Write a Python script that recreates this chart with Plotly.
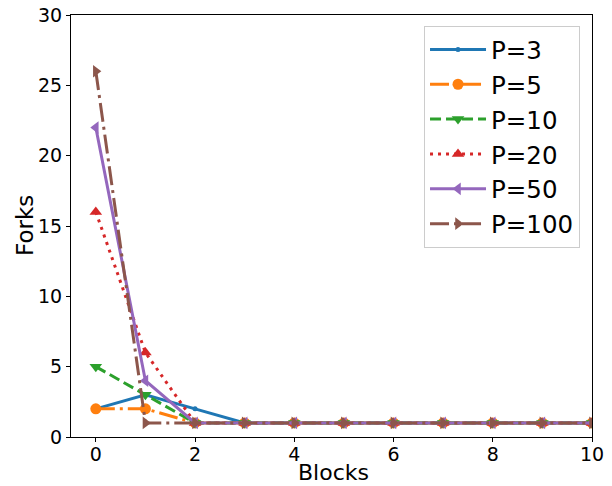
import plotly.graph_objects as go

blocks = list(range(11))
series_names = ["P=3", "P=5", "P=10", "P=20", "P=50", "P=100"]
p3 = [2, 3, 2, 1, 1, 1, 1, 1, 1, 1, 1]
p5 = [2, 2, 1, 1, 1, 1, 1, 1, 1, 1, 1]
p10 = [5, 3, 1, 1, 1, 1, 1, 1, 1, 1, 1]
p20 = [16, 6, 1, 1, 1, 1, 1, 1, 1, 1, 1]
p50 = [22, 4, 1, 1, 1, 1, 1, 1, 1, 1, 1]
p100 = [26, 1, 1, 1, 1, 1, 1, 1, 1, 1, 1]
values = [p3, p5, p10, p20, p50, p100]
x_title = "Blocks"
y_title = "Forks"

colors = ["#1f77b4", "#ff7f0e", "#2ca02c", "#d62728", "#9467bd", "#8c564b"]
dashes = ["solid", "19px,5px,3px,5px", "11px,5px", "3px,5px", "solid", "19px,5px,3px,5px"]
symbols = ["circle", "circle", "triangle-down", "triangle-up", "triangle-left", "triangle-right"]
sizes = [5, 11, 11, 11, 11, 11]

fig = go.Figure()
for name, ys, c, d, s, sz in zip(series_names, values, colors, dashes, symbols, sizes):
    fig.add_trace(go.Scatter(
        x=blocks, y=ys, name=name, mode="lines+markers",
        line=dict(color=c, width=3, dash=d),
        marker=dict(symbol=s, size=sz, color=c, line=dict(width=0)),
    ))

fig.update_layout(
    width=612, height=486,
    margin=dict(l=71, r=20, t=15, b=49),
    paper_bgcolor="white", plot_bgcolor="white",
    font=dict(family="DejaVu Sans", size=19, color="black"),
    showlegend=True,
    legend=dict(
        x=0.977, y=0.974, xanchor="right", yanchor="top",
        font=dict(size=24.5), bgcolor="rgba(255,255,255,0.8)",
        bordercolor="#cccccc", borderwidth=1, tracegroupgap=0,
        itemwidth=56,
    ),
    annotations=[
        dict(text=x_title, xref="paper", yref="paper", x=0.5, y=0,
             xanchor="center", yanchor="middle", yshift=-35, xshift=2,
             showarrow=False, font=dict(size=22)),
        dict(text=y_title, xref="paper", yref="paper", x=0, y=0.5,
             xanchor="center", yanchor="middle", xshift=-46, textangle=-90,
             showarrow=False, font=dict(size=23)),
    ],
)
fig.update_xaxes(
    range=[-0.5, 10], tickvals=[0, 2, 4, 6, 8, 10], automargin=False,
    showgrid=False, zeroline=False, showline=True, linecolor="black", linewidth=1,
    mirror=True, ticks="outside", ticklen=4, tickcolor="black",
    ticklabelstandoff=-4,
)
fig.update_yaxes(
    range=[0, 30], tickvals=[0, 5, 10, 15, 20, 25, 30], automargin=False,
    showgrid=False, zeroline=False, showline=True, linecolor="black", linewidth=1,
    mirror=True, ticks="outside", ticklen=4, tickcolor="black",
)

fig.write_html(
    "out.html",
    config={"displayModeBar": False},
    post_script="document.body.style.margin='0';document.body.style.overflow='hidden';",
)
